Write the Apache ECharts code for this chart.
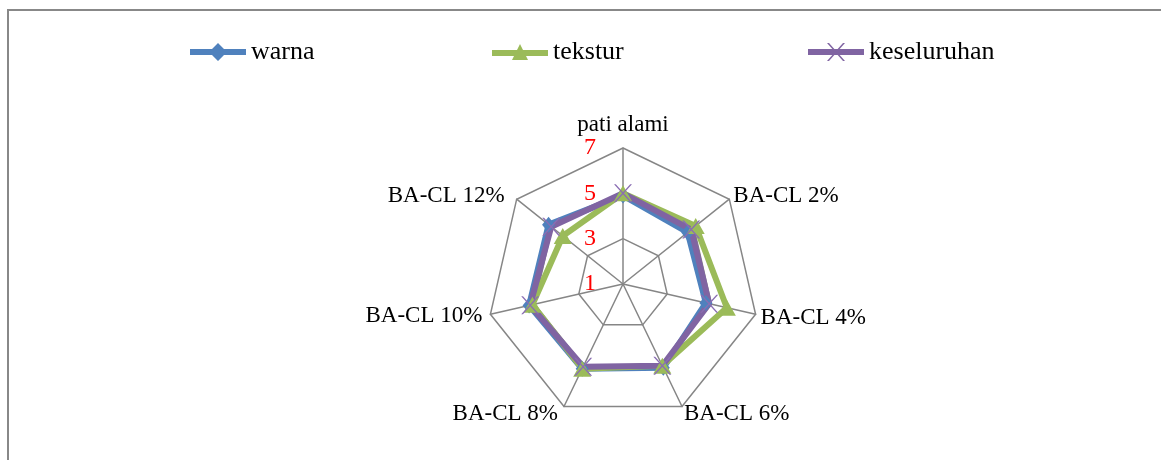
<!DOCTYPE html>
<html>
<head>
<meta charset="utf-8">
<style>
  html, body { margin: 0; padding: 0; background: #fff; }
  #chart { width: 1161px; height: 460px; }
</style>
<script src="https://cdn.jsdelivr.net/npm/echarts@6/dist/echarts.min.js"></script>
</head>
<body>
<div id="chart"></div>
<script>
// Spoke names, listed clockwise from the top
const categories = ['pati alami', 'BA-CL 2%', 'BA-CL 4%', 'BA-CL 6%', 'BA-CL 8%', 'BA-CL 10%', 'BA-CL 12%'];
// Sensory scores per treatment
const warna       = [4.9, 4.65, 4.75, 5.1, 5.15, 5.25, 5.2];
const tekstur     = [5.0, 5.1, 5.7, 5.0, 5.15, 5.1, 4.4];
const keseluruhan = [5.0, 4.85, 4.9, 5.0, 5.05, 5.2, 5.05];
// Scale of the score axes
const scaleMin = 1;
const scaleMax = 7;
const scaleStep = 2;

const FONT = '"Liberation Serif", "Times New Roman", serif';
const GRID = '#868686';
const C_WARNA = '#4F81BD';
const C_TEKSTUR = '#9BBB59';
const C_KESEL = '#8064A2';

// ECharts lays radar spokes out counter-clockwise, so walk the list backwards after the first
const order = [0].concat(categories.slice(1).map((_, i) => categories.length - 1 - i));
const pick = arr => order.map(i => arr[i]);

const indicator = order.map((i, k) => ({
  name: categories[i],
  min: scaleMin,
  max: scaleMax,
  axisLabel: k === 0 ? {
    show: true,
    color: '#ff0000',
    fontFamily: FONT,
    fontSize: 24,
    lineHeight: 10,
    margin: 27,
    showMinLabel: true,
    showMaxLabel: true
  } : { show: false }
}));

// Spacing between each spoke end and its name
const nameStyle = {
  'pati alami': 'top',
  'BA-CL 2%': 'r2',
  'BA-CL 4%': 'r4',
  'BA-CL 6%': 'r6',
  'BA-CL 8%': 'l8',
  'BA-CL 10%': 'l10',
  'BA-CL 12%': 'l12'
};
const nameBase = { fontFamily: FONT, fontSize: 23, color: '#000' };
const nameRich = {
  top: Object.assign({}, nameBase, { padding: [0, 0, 2, 0] }),
  r2: Object.assign({}, nameBase, { padding: [0, 0, 6, 4] }),
  r4: Object.assign({}, nameBase, { padding: [8, 0, 0, 5] }),
  r6: Object.assign({}, nameBase, { padding: [15, 0, 0, 2] }),
  l8: Object.assign({}, nameBase, { padding: [15, 6, 0, 0] }),
  l10: Object.assign({}, nameBase, { padding: [4, 8, 0, 0] }),
  l12: Object.assign({}, nameBase, { padding: [0, 12, 6, 0] })
};

// Legend glyphs: line with the series marker on it
const ICON_DIAMOND = 'path://M0,6 L22,6 L28,0 L34,6 L56,6 L56,12 L34,12 L28,18 L22,12 L0,12 Z';
const ICON_TRI = 'path://M0,6 L25,6 L28,0 L31,6 L56,6 L56,12 L34,12 L36,16 L20,16 L22,12 L0,12 Z';
const ICON_X = 'path://M0,6 L56,6 L56,12 L0,12 Z M19,0 L21,0 L37,18 L35,18 Z M35,0 L37,0 L21,18 L19,18 Z';
const SYM_X = 'path://M0,0 L1.8,0 L18,18 L16.2,18 Z M16.2,0 L18,0 L1.8,18 L0,18 Z';

function legendAt(left, name, icon, h, color) {
  return {
    left: left, top: 34,
    itemWidth: 56, itemHeight: h, itemGap: 0,
    selectedMode: false,
    textStyle: { fontFamily: FONT, fontSize: 26, color: '#000' },
    data: [{ name: name, icon: icon, itemStyle: { color: color } }]
  };
}

const chart = echarts.init(document.getElementById('chart'));
chart.setOption({
  animation: false,
  backgroundColor: '#fff',
  graphic: [{
    type: 'polyline',
    shape: { points: [[8, 460], [8, 10], [1161, 10]] },
    style: { stroke: '#888', lineWidth: 2, fill: null },
    silent: true
  }],
  legend: [
    legendAt(185, 'warna', ICON_DIAMOND, 18, C_WARNA),
    legendAt(487, 'tekstur', ICON_TRI, 16, C_TEKSTUR),
    legendAt(803, 'keseluruhan', ICON_X, 18, C_KESEL)
  ],
  radar: {
    center: [623, 284],
    radius: 136,
    startAngle: 90,
    shape: 'polygon',
    splitNumber: (scaleMax - scaleMin) / scaleStep,
    indicator: indicator,
    axisName: {
      color: '#000', fontFamily: FONT, fontSize: 23,
      formatter: name => '{' + nameStyle[name] + '|' + name + '}',
      rich: nameRich
    },
    nameGap: 0,
    axisLine: { lineStyle: { color: GRID, width: 1.5 } },
    splitLine: { lineStyle: { color: GRID, width: 1.5 } },
    splitArea: { show: false },
    axisTick: { show: false }
  },
  series: [{
    type: 'radar',
    z: 2,
    data: [
      {
        name: 'warna', value: pick(warna),
        symbol: 'diamond', symbolSize: [13, 16],
        lineStyle: { color: C_WARNA, width: 6 },
        itemStyle: { color: C_WARNA }
      },
      {
        name: 'tekstur', value: pick(tekstur),
        symbol: 'triangle', symbolSize: [18, 16],
        lineStyle: { color: C_TEKSTUR, width: 6 },
        itemStyle: { color: C_TEKSTUR }
      },
      {
        name: 'keseluruhan', value: pick(keseluruhan),
        symbol: SYM_X, symbolSize: [18, 18],
        lineStyle: { color: C_KESEL, width: 6 },
        itemStyle: { color: '#8a6db3' }
      }
    ]
  }],
  color: [C_WARNA, C_TEKSTUR, C_KESEL]
});
</script>
</body>
</html>
